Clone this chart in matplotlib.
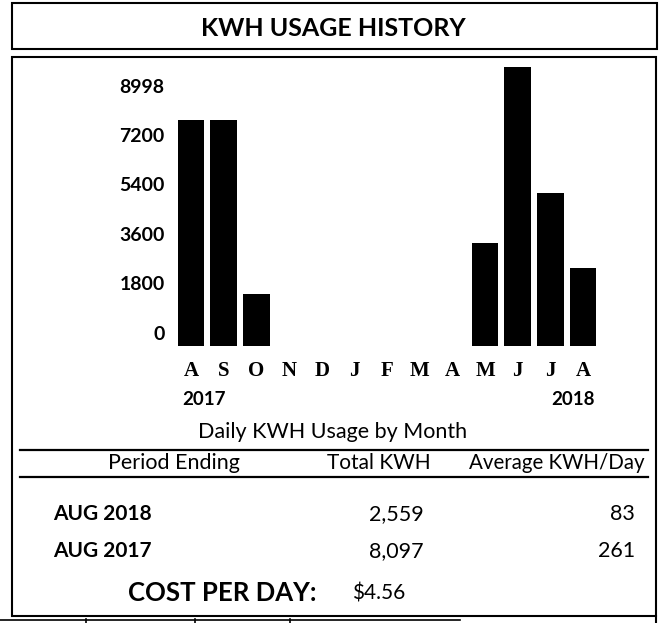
import matplotlib
matplotlib.use('Agg')
import matplotlib.pyplot as plt
import matplotlib.transforms as mtransforms
from matplotlib.patches import Rectangle

# chart data
months = ['A', 'S', 'O', 'N', 'D', 'J', 'F', 'M', 'A', 'M', 'J', 'J', 'A']
kwh = [8230, 8230, 1890, 0, 0, 0, 0, 0, 0, 3750, 10160, 5570, 2840]
y_ticks = [0, 1800, 3600, 5400, 7200, 8998]
years = ['2017', '2018']

# summary table
headers = ['Period Ending', 'Total KWH', 'Average KWH/Day']
periods = ['AUG 2018', 'AUG 2017']
totals = ['2,559', '8,097']
avg_per_day = ['83', '261']
cost_per_day = '$4.56'

W, H, DPI = 662, 623, 100
SANS = 'Lato'
SERIF = 'Liberation Serif'

fig = plt.figure(figsize=(W / DPI, H / DPI), dpi=DPI)
fig.patch.set_facecolor('white')


def off(dx, dy):
    """pixel offset (dy positive = up)"""
    return mtransforms.ScaledTranslation(dx / DPI, dy / DPI, fig.dpi_scale_trans)


# background layer in pixel units for frames and table
bg = fig.add_axes([0, 0, 1, 1], zorder=0)
bg.set_xlim(0, W)
bg.set_ylim(H, 0)
bg.axis('off')

bg.add_patch(Rectangle((12, 3), 645, 46, fill=False, lw=1.5, ec='black'))
bg.add_patch(Rectangle((12, 57), 644, 559, fill=False, lw=1.5, ec='black'))
bg.text(333, 36, 'KWH USAGE HISTORY', ha='center', va='baseline',
        fontsize=18, fontweight='bold', family=SANS)

# bar chart
ax = fig.add_axes([174.7 / W, (H - 346) / H, 424.7 / W, 288 / H], zorder=1)
ax.patch.set_alpha(0)
x = list(range(len(months)))
ax.bar(x, kwh, width=0.82, color='black')
ax.set_xlim(-0.5, len(months) - 0.5)
ax.set_ylim(0, 10500)
ax.set_xticks([])
ax.set_yticks([])
for s in ax.spines.values():
    s.set_visible(False)

ytrans = mtransforms.blended_transform_factory(ax.transAxes, ax.transData)
for v in y_ticks:
    ax.text(0, v, str(v), transform=ytrans + off(-10, 12), ha='right', va='center',
            fontsize=14, fontweight='bold', family=SANS)

for i, m in enumerate(months):
    ax.text(i, 0, m, transform=ax.transData + off(0, -30), ha='center', va='baseline',
            fontsize=15, fontweight='bold', family=SERIF)

ax.text(0, 0, years[0], transform=ax.transData + off(-9, -59), ha='left', va='baseline',
        fontsize=13.5, fontweight='bold', family=SANS)
ax.text(len(months) - 1, 0, years[1], transform=ax.transData + off(12, -59), ha='right',
        va='baseline', fontsize=13.5, fontweight='bold', family=SANS)

# caption and table
bg.text(333, 438, 'Daily KWH Usage by Month', ha='center', va='baseline',
        fontsize=15.5, family=SANS)
bg.plot([20, 648], [450, 450], color='black', lw=1.6)

bg.text(174, 469, headers[0], ha='center', va='baseline', fontsize=15.5, family=SANS)
bg.text(379, 469, headers[1], ha='center', va='baseline', fontsize=15, family=SANS)
bg.text(645, 469, headers[2], ha='right', va='baseline', fontsize=14.8, family=SANS)
bg.plot([20, 648], [477, 477], color='black', lw=1.6)

for row_y, p, t, a in zip([520, 557], periods, totals, avg_per_day):
    bg.text(53, row_y, p, ha='left', va='baseline', fontsize=15, fontweight='bold', family=SANS)
    bg.text(424, row_y, t, ha='right', va='baseline', fontsize=15.5, family=SANS)
    bg.text(635, row_y, a, ha='right', va='baseline', fontsize=15.5, family=SANS)

bg.text(128, 601, 'COST PER DAY:', ha='left', va='baseline', fontsize=18.5,
        fontweight='bold', family=SANS)
bg.text(352, 599, cost_per_day, ha='left', va='baseline', fontsize=15, family=SANS)

# edge of the next table on the page
bg.plot([0, 460], [619.5, 619.5], color='black', lw=1.2)
for xv in [86, 195, 290]:
    bg.plot([xv, xv], [619, H], color='black', lw=1.2)
bg.plot([656, 656], [616, H], color='black', lw=1.5)

fig.savefig('out.png', dpi=DPI)
